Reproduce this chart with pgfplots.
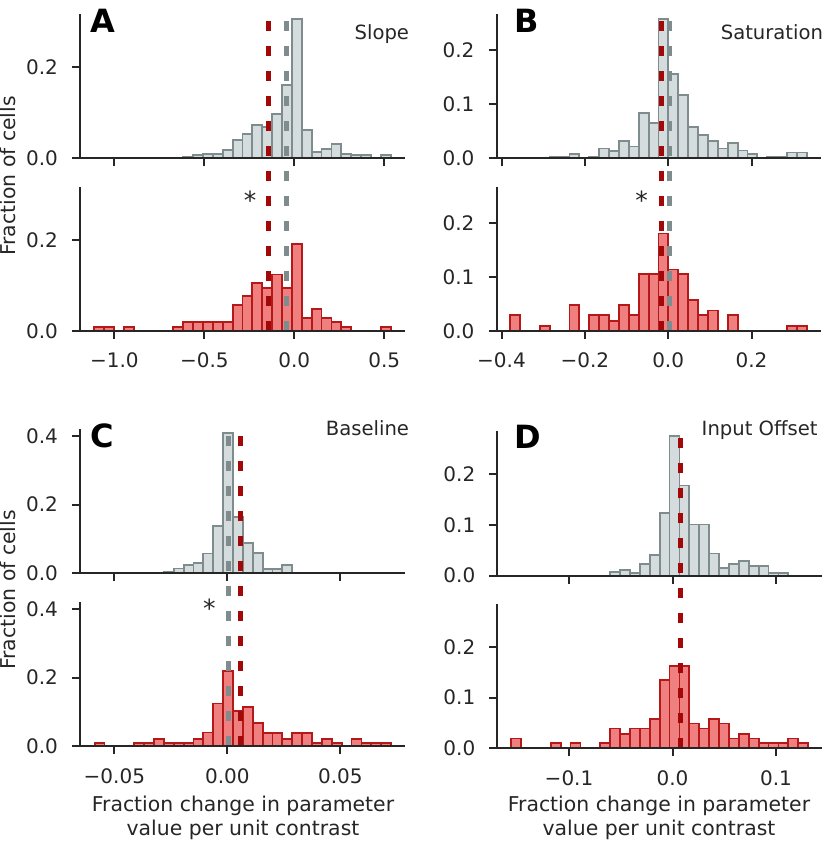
\documentclass[border=0pt]{standalone}
\usepackage{pgfplots}
\pgfplotsset{compat=1.18}
\usepackage{fontspec}
\setmainfont{DejaVu Sans}
\definecolor{grayfill}{HTML}{D5DCDD}
\definecolor{grayedge}{HTML}{7F8C8D}
\definecolor{redfill}{HTML}{F08080}
\definecolor{rededge}{HTML}{B41818}
\definecolor{reddash}{HTML}{A30808}
\definecolor{ink}{HTML}{262626}
\pgfplotsset{
  hist/.style={
    scale only axis, width=162.5pt, height=72.25pt,
    anchor=south west,
    axis lines*=left, axis on top, tick pos=left,
    ymin=0, clip=false,
    tick align=outside, major tick length=4pt,
    every tick/.style={line width=1pt, ink},
    axis line style={line width=1pt, ink},
    ticklabel style={font=\fontsize{10}{12}\selectfont, text=ink},
    xticklabel style={yshift=-3.5pt},
    yticklabel style={xshift=-3.5pt},
    minor tick num=0, scaled ticks=false,
  },
  grayhist/.style={ybar interval, fill=grayfill, draw=grayedge, line width=0.9pt},
  redhist/.style={ybar interval, fill=redfill, draw=rededge, line width=0.9pt},
  graydash/.style={draw=grayedge, line width=2.5pt, dash pattern=on 5pt off 7.5pt},
  reddash/.style={draw=reddash, line width=2.5pt, dash pattern=on 5pt off 7.5pt},
}
\begin{document}
\begin{tikzpicture}
\useasboundingbox (0,0) rectangle (414pt,-420.5pt);
% ---------------- A ----------------
\begin{axis}[hist, at={(40pt,-79.15pt)}, xmin=-1.1907, xmax=0.6149, ymax=0.317,
  xtick={-1,-0.5,0,0.5}, xticklabels={}, ytick={0,0.2}, yticklabels={0.0,0.2}]
\addplot[grayhist] coordinates {
(-1.1111,0) (-1.0562,0) (-1.0014,0) (-0.9465,0) (-0.8916,0) (-0.8367,0)
(-0.7818,0) (-0.7270,0) (-0.6721,0) (-0.6172,0.004) (-0.5623,0.007) (-0.5075,0.0095)
(-0.4526,0.0095) (-0.3977,0.0176) (-0.3428,0.0396) (-0.2879,0.053) (-0.2331,0.0725) (-0.1782,0.069)
(-0.1233,0.0974) (-0.0684,0.16) (-0.0136,0.305) (0.0413,0.0615) (0.0962,0.0147) (0.1511,0.021)
(0.2060,0.032) (0.2608,0.0095) (0.3157,0.007) (0.3706,0.007) (0.4255,0) (0.4803,0.007) (0.5352,0)};
\end{axis}
\begin{axis}[hist, at={(40pt,-165.5pt)}, xmin=-1.1907, xmax=0.6149, ymax=0.317,
  xtick={-1,-0.5,0,0.5}, xticklabels={−1.0,−0.5,0.0,0.5}, ytick={0,0.2}, yticklabels={0.0,0.2}]
\addplot[redhist] coordinates {
(-1.1111,0.0095) (-1.0562,0.0095) (-1.0014,0) (-0.9465,0.0095) (-0.8916,0) (-0.8367,0)
(-0.7818,0) (-0.7270,0) (-0.6721,0.0095) (-0.6172,0.019) (-0.5623,0.019) (-0.5075,0.019)
(-0.4526,0.019) (-0.3977,0.019) (-0.3428,0.057) (-0.2879,0.076) (-0.2331,0.105) (-0.1782,0.095)
(-0.1233,0.124) (-0.0684,0.095) (-0.0136,0.19) (0.0413,0.029) (0.0962,0.048) (0.1511,0.029)
(0.2060,0.019) (0.2608,0.0095) (0.3157,0) (0.3706,0) (0.4255,0) (0.4803,0.0095) (0.5352,0)};
\addplot[graydash] coordinates {(-0.046,0) (-0.046,0.696)};
\addplot[reddash] coordinates {(-0.144,0) (-0.144,0.696)};
\end{axis}
% ---------------- B ----------------
\begin{axis}[hist, at={(248.25pt,-79.15pt)}, xmin=-0.412, xmax=0.368, ymax=0.268,
  xtick={-0.4,-0.2,0,0.2}, xticklabels={}, ytick={0,0.1,0.2}, yticklabels={0.0,0.1,0.2}]
\addplot[grayhist] coordinates {
(-0.3792,0) (-0.3555,0) (-0.3317,0) (-0.3080,0) (-0.2843,0.003) (-0.2605,0.003)
(-0.2368,0.0075) (-0.2131,0) (-0.1893,0.003) (-0.1656,0.018) (-0.1419,0.0137) (-0.1181,0.032)
(-0.0944,0.022) (-0.0707,0.084) (-0.0469,0.066) (-0.0232,0.259) (0.0005,0.157) (0.0243,0.117)
(0.0480,0.058) (0.0717,0.0435) (0.0955,0.032) (0.1192,0.018) (0.1429,0.028) (0.1667,0.0143)
(0.1904,0.0075) (0.2141,0) (0.2379,0.003) (0.2616,0.003) (0.2853,0.0106) (0.3091,0.0106) (0.3328,0)};
\end{axis}
\begin{axis}[hist, at={(248.25pt,-165.5pt)}, xmin=-0.412, xmax=0.368, ymax=0.268,
  xtick={-0.4,-0.2,0,0.2}, xticklabels={−0.4,−0.2,0.0,0.2}, ytick={0,0.1,0.2}, yticklabels={0.0,0.1,0.2}]
\addplot[redhist] coordinates {
(-0.3792,0.029) (-0.3555,0) (-0.3317,0) (-0.3080,0.0095) (-0.2843,0) (-0.2605,0)
(-0.2368,0.048) (-0.2131,0) (-0.1893,0.029) (-0.1656,0.029) (-0.1419,0.019) (-0.1181,0.048)
(-0.0944,0.029) (-0.0707,0.105) (-0.0469,0.105) (-0.0232,0.181) (0.0005,0.114) (0.0243,0.105)
(0.0480,0.057) (0.0717,0.029) (0.0955,0.038) (0.1192,0) (0.1429,0.029) (0.1667,0)
(0.1904,0) (0.2141,0) (0.2379,0) (0.2616,0) (0.2853,0.0095) (0.3091,0.0095) (0.3328,0)};
\addplot[graydash] coordinates {(0.0024,0) (0.0024,0.588)};
\addplot[reddash] coordinates {(-0.016,0) (-0.016,0.588)};
\end{axis}
% ---------------- C ----------------
\begin{axis}[hist, at={(40pt,-286.65pt)}, xmin=-0.0652, xmax=0.0786, ymax=0.421,
  xtick={-0.05,0,0.05}, xticklabels={}, ytick={0,0.2,0.4}, yticklabels={0.0,0.2,0.4}]
\addplot[grayhist] coordinates {
(-0.05870,0) (-0.05433,0) (-0.04996,0) (-0.04559,0) (-0.04122,0) (-0.03685,0)
(-0.03248,0) (-0.02811,0.005) (-0.02373,0.014) (-0.01936,0.024) (-0.01499,0.031) (-0.01062,0.058)
(-0.00625,0.137) (-0.00188,0.408) (0.00249,0.164) (0.00686,0.088) (0.01123,0.06) (0.01560,0.013)
(0.01997,0.013) (0.02434,0.024) (0.02871,0) (0.03309,0) (0.03746,0) (0.04183,0)
(0.04620,0) (0.05057,0) (0.05494,0) (0.05931,0) (0.06368,0) (0.06805,0) (0.07242,0)};
\end{axis}
\begin{axis}[hist, at={(40pt,-373.15pt)}, xmin=-0.0652, xmax=0.0786, ymax=0.421,
  xtick={-0.05,0,0.05}, xticklabels={−0.05,0.00,0.05}, ytick={0,0.2,0.4}, yticklabels={0.0,0.2,0.4}]
\addplot[redhist] coordinates {
(-0.05870,0.0105) (-0.05433,0) (-0.04996,0) (-0.04559,0) (-0.04122,0.0105) (-0.03685,0.0105)
(-0.03248,0.021) (-0.02811,0.0105) (-0.02373,0.0105) (-0.01936,0.0105) (-0.01499,0.021) (-0.01062,0.04)
(-0.00625,0.125) (-0.00188,0.219) (0.00249,0.103) (0.00686,0.115) (0.01123,0.068) (0.01560,0.038)
(0.01997,0.038) (0.02434,0.021) (0.02871,0.038) (0.03309,0.038) (0.03746,0.0105) (0.04183,0.021)
(0.04620,0.0105) (0.05057,0) (0.05494,0.021) (0.05931,0.0105) (0.06368,0.0105) (0.06805,0.0105) (0.07242,0)};
\addplot[graydash] coordinates {(0.0004,0) (0.0004,0.924)};
\addplot[reddash] coordinates {(0.0058,0) (0.0058,0.924)};
\end{axis}
% ---------------- D ----------------
\begin{axis}[hist, at={(248.65pt,-287.85pt)}, xmin=-0.1693, xmax=0.1447, ymax=0.285,
  xtick={-0.1,0,0.1}, xticklabels={}, ytick={0,0.1,0.2}, yticklabels={0.0,0.1,0.2}]
\addplot[grayhist] coordinates {
(-0.15591,0) (-0.14635,0) (-0.13678,0) (-0.12722,0) (-0.11765,0) (-0.10809,0)
(-0.09852,0) (-0.08896,0) (-0.07939,0) (-0.06983,0) (-0.06026,0.008) (-0.05070,0.011)
(-0.04113,0.005) (-0.03157,0.023) (-0.02200,0.041) (-0.01244,0.124) (-0.00287,0.276) (0.00669,0.178)
(0.01626,0.101) (0.02582,0.101) (0.03539,0.044) (0.04495,0.015) (0.05452,0.023) (0.06408,0.029)
(0.07365,0.019) (0.08321,0.019) (0.09278,0.0046) (0.10234,0.0046) (0.11191,0) (0.12147,0) (0.13104,0)};
\end{axis}
\begin{axis}[hist, at={(248.65pt,-374.15pt)}, xmin=-0.1693, xmax=0.1447, ymax=0.285,
  xtick={-0.1,0,0.1}, xticklabels={−0.1,0.0,0.1}, ytick={0,0.1,0.2}, yticklabels={0.0,0.1,0.2}]
\addplot[redhist] coordinates {
(-0.15591,0.0195) (-0.14635,0) (-0.13678,0) (-0.12722,0) (-0.11765,0.0098) (-0.10809,0)
(-0.09852,0.0098) (-0.08896,0) (-0.07939,0) (-0.06983,0.0098) (-0.06026,0.039) (-0.05070,0.029)
(-0.04113,0.039) (-0.03157,0.039) (-0.02200,0.0585) (-0.01244,0.134) (-0.00287,0.163) (0.00669,0.163)
(0.01626,0.049) (0.02582,0.039) (0.03539,0.0585) (0.04495,0.049) (0.05452,0.0195) (0.06408,0.029)
(0.07365,0.0195) (0.08321,0.0098) (0.09278,0.0098) (0.10234,0.0098) (0.11191,0.0195) (0.12147,0.0098) (0.13104,0)};
\addplot[graydash] coordinates {(0.0075,0) (0.0075,0.6256)};
\addplot[reddash] coordinates {(0.0077,0) (0.0077,0.6256)};
\end{axis}
% ---------------- texts ----------------
\begin{scope}[every node/.style={inner sep=0pt, text=black}]
\node[font=\fontsize{16}{16}\selectfont\bfseries, anchor=north west] at (45pt,-4.2pt) {A};
\node[font=\fontsize{16}{16}\selectfont\bfseries, anchor=north west] at (257pt,-4.2pt) {B};
\node[font=\fontsize{16}{16}\selectfont\bfseries, anchor=north west] at (45pt,-211.7pt) {C};
\node[font=\fontsize{16}{16}\selectfont\bfseries, anchor=north west] at (257pt,-212.5pt) {D};
\end{scope}
\begin{scope}[every node/.style={inner sep=0pt, text=ink, font=\fontsize{9.8}{12}\selectfont}]
\node[anchor=base east] at (204.7pt,-19.7pt) {Slope};
\node[anchor=base east] at (411.7pt,-19.7pt) {Saturation};
\node[anchor=base east] at (204.7pt,-217.5pt) {Baseline};
\node[anchor=base east] at (409pt,-217.5pt) {Input Offset};
\end{scope}
\begin{scope}[every node/.style={inner sep=0pt, text=ink, font=\fontsize{12.5}{14}\selectfont}]
\node[anchor=north] at (125pt,-95.3pt) {*};
\node[anchor=north] at (320.8pt,-95.3pt) {*};
\node[anchor=north] at (104.7pt,-299.5pt) {*};
\end{scope}
\begin{scope}[every node/.style={inner sep=0pt, text=ink, font=\fontsize{10.2}{12}\selectfont}]
\node[rotate=90, anchor=base] at (8pt,-88pt) {Fraction of cells};
\node[rotate=90, anchor=base] at (8pt,-295pt) {Fraction of cells};
\node[anchor=base] at (121.5pt,-405.85pt) {Fraction change in parameter};
\node[anchor=base] at (121.5pt,-417.85pt) {value per unit contrast};
\node[anchor=base] at (329.5pt,-405.85pt) {Fraction change in parameter};
\node[anchor=base] at (329.5pt,-417.85pt) {value per unit contrast};
\end{scope}
\end{tikzpicture}
\end{document}
